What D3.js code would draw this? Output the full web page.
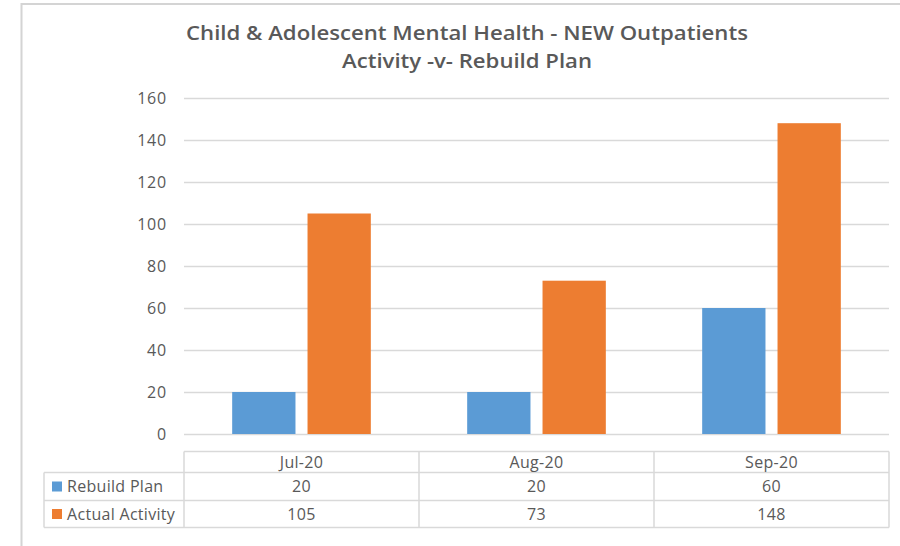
<!DOCTYPE html>
<html>
<head>
<meta charset="utf-8">
<script src="https://cdn.jsdelivr.net/npm/d3@7"></script>
<style>
  html, body { margin: 0; padding: 0; background: #fff; }
  svg { display: block; font-family: "Open Sans", "Liberation Sans", sans-serif; }
</style>
</head>
<body>
<svg id="chart" width="900" height="546"></svg>
<script>
const categories = ["Jul-20", "Aug-20", "Sep-20"];
const seriesNames = ["Rebuild Plan", "Actual Activity"];
const rebuildPlan = [20, 20, 60];
const actualActivity = [105, 73, 148];
const yTicks = [0, 20, 40, 60, 80, 100, 120, 140, 160];
const titleLines = ["Child & Adolescent Mental Health - NEW Outpatients", "Activity -v- Rebuild Plan"];
const colors = ["#5B9BD5", "#ED7D31"];

const seriesValues = [rebuildPlan, actualActivity];
const textColor = "#595959";
const gridColor = "#d9d9d9";

const svg = d3.select("#chart");

// outer frame
svg.append("path")
  .attr("d", "M21.5,546 L21.5,4 L900,4")
  .attr("fill", "none").attr("stroke", "#d4d4d4").attr("stroke-width", 2);

// title
const title = svg.append("text")
  .attr("text-anchor", "middle")
  .attr("fill", textColor)
  .attr("font-weight", 600)
  .attr("font-size", 20);
titleLines.forEach((t, i) => {
  title.append("tspan").attr("x", 467).attr("y", 40 + i * 28).text(t)
    .attr("textLength", i === 0 ? 562 : 250).attr("lengthAdjust", "spacingAndGlyphs");
});

const plotLeft = 184, plotRight = 889, plotTop = 98, plotBottom = 434;

const y = d3.scaleLinear().domain([0, 160]).range([plotBottom, plotTop]);
const x = d3.scaleBand().domain(categories).range([plotLeft, plotRight])
  .paddingInner(0.41).paddingOuter(0.205);
const xs = d3.scaleBand().domain(seriesNames).range([0, x.bandwidth()]).paddingInner(0.16);

// gridlines + y axis labels via axis
const yAxis = d3.axisLeft(y).tickValues(yTicks).tickSize(-(plotRight - plotLeft)).tickPadding(17);
const gy = svg.append("g").attr("transform", `translate(${plotLeft},0)`).call(yAxis);
gy.select(".domain").remove();
gy.selectAll(".tick line").attr("stroke", gridColor).attr("stroke-width", 1.3);
gy.selectAll(".tick text").attr("fill", textColor).attr("font-size", 16)
  .attr("letter-spacing", 0.8)
  .attr("font-family", "'Open Sans', sans-serif");

// bars
const groups = svg.append("g").selectAll("g")
  .data(categories)
  .join("g")
  .attr("transform", d => `translate(${x(d)},0)`);

groups.selectAll("rect")
  .data((c, ci) => seriesNames.map((s, si) => ({ s, si, v: seriesValues[si][ci] })))
  .join("rect")
  .attr("x", d => xs(d.s))
  .attr("width", xs.bandwidth())
  .attr("y", d => y(d.v))
  .attr("height", d => y(0) - y(d.v))
  .attr("fill", d => colors[d.si]);

// data table
const tableLeft = 44;
const rowEdges = [451.5, 472.5, 500.5, 527.5];
const colEdges = [plotLeft].concat(categories.map(c => x(c) + x.bandwidth() / 2 + x.step() / 2));
const tbl = svg.append("g").attr("stroke", gridColor).attr("stroke-width", 1.5).attr("fill", "none");

tbl.append("line").attr("x1", plotLeft).attr("x2", plotRight).attr("y1", rowEdges[0]).attr("y2", rowEdges[0]);
for (let i = 1; i < rowEdges.length; i++) {
  tbl.append("line").attr("x1", tableLeft).attr("x2", plotRight).attr("y1", rowEdges[i]).attr("y2", rowEdges[i]);
}
tbl.append("line").attr("x1", tableLeft).attr("x2", tableLeft).attr("y1", rowEdges[1]).attr("y2", rowEdges[3]);
colEdges.forEach(cx => {
  tbl.append("line").attr("x1", cx).attr("x2", cx).attr("y1", rowEdges[0]).attr("y2", rowEdges[3]);
});

const cellFont = 16;
// header text
svg.append("g").selectAll("text")
  .data(categories)
  .join("text")
  .attr("x", d => x(d) + x.bandwidth() / 2)
  .attr("y", (rowEdges[0] + rowEdges[1]) / 2)
  .attr("dy", "0.35em")
  .attr("text-anchor", "middle")
  .attr("fill", textColor)
  .attr("font-size", cellFont)
  .attr("letter-spacing", 0.3)
  .text(d => d);

// rows
seriesNames.forEach((s, si) => {
  const cy = (rowEdges[si + 1] + rowEdges[si + 2]) / 2;
  svg.append("rect").attr("x", 52).attr("y", cy - 5).attr("width", 10).attr("height", 10).attr("fill", colors[si]);
  svg.append("text").attr("x", 67).attr("y", cy).attr("dy", "0.35em")
    .attr("fill", textColor).attr("font-size", cellFont).attr("letter-spacing", 0.3).text(s);
  svg.append("g").selectAll("text")
    .data(categories)
    .join("text")
    .attr("x", d => x(d) + x.bandwidth() / 2)
    .attr("y", cy)
    .attr("dy", "0.35em")
    .attr("text-anchor", "middle")
    .attr("fill", textColor)
    .attr("font-size", cellFont)
    .attr("letter-spacing", 0.3)
    .text((d, ci) => seriesValues[si][ci]);
});
</script>
</body>
</html>
